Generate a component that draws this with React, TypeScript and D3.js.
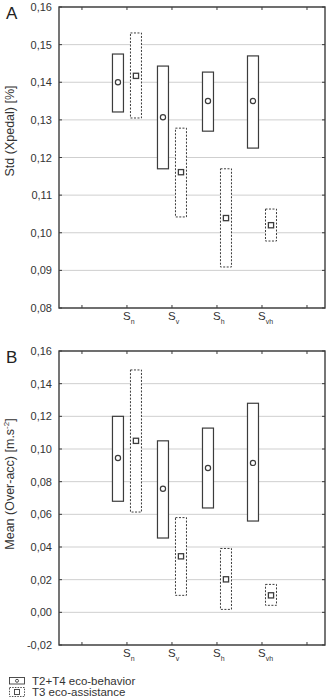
import React from 'react';
import * as d3 from 'd3';

// condition labels (S with subscript)
const categories = ['n', 'v', 'h', 'vh'];

// panel A: Std (Xpedal)
const stdBehaviorMean = [0.14, 0.1307, 0.135, 0.135];
const stdBehaviorLow = [0.1321, 0.117, 0.127, 0.1225];
const stdBehaviorHigh = [0.1475, 0.1443, 0.1427, 0.147];
const stdAssistMean = [0.1417, 0.1161, 0.1039, 0.102];
const stdAssistLow = [0.1305, 0.1042, 0.0909, 0.0978];
const stdAssistHigh = [0.1531, 0.1278, 0.117, 0.1063];
const stdTicks = [0.08, 0.09, 0.1, 0.11, 0.12, 0.13, 0.14, 0.15, 0.16];

// panel B: Mean (Over-acc)
const accBehaviorMean = [0.0945, 0.0757, 0.0884, 0.0915];
const accBehaviorLow = [0.068, 0.0455, 0.0639, 0.0559];
const accBehaviorHigh = [0.12, 0.105, 0.1128, 0.128];
const accAssistMean = [0.105, 0.0343, 0.0202, 0.0104];
const accAssistLow = [0.0614, 0.0104, 0.0018, 0.0043];
const accAssistHigh = [0.1484, 0.058, 0.0391, 0.0171];
const accTicks = [-0.02, 0, 0.02, 0.04, 0.06, 0.08, 0.1, 0.12, 0.14, 0.16];

const legendLabels = ['T2+T4 eco-behavior', 'T3 eco-assistance'];

const FONT = '"Liberation Sans", Arial, sans-serif';
const INK = '#3c3c3c';
const TXT = '#333';
const DASH = '2,1.5';
const fmt = (v: number) => d3.format('.2f')(v).replace('.', ',').replace('−', '-');

const left = 59, right = 325;
const x = d3.scaleLinear().domain([0.49, 6.4]).range([left, right]);
const xTicks = [1, 2, 3, 4, 5, 6];
const off = 9, bw = 11;

type PanelProps = {
  top: number; bottom: number; ticks: number[]; letter: string; title: React.ReactNode; titleY: number;
  bMean: number[]; bLow: number[]; bHigh: number[];
  aMean: number[]; aLow: number[]; aHigh: number[];
};

const Panel = ({ top, bottom, ticks, letter, title, titleY, bMean, bLow, bHigh, aMean, aLow, aHigh }: PanelProps) => {
  const y = d3.scaleLinear().domain([ticks[0], ticks[ticks.length - 1]]).range([bottom, top]);
  return (
    <g>
      {ticks.map(t => (
        <g key={t}>
          <line x1={left} x2={right} y1={y(t)} y2={y(t)} stroke="#cfcfcf" strokeWidth={1} />
          <line x1={left} x2={left + 3} y1={y(t)} y2={y(t)} stroke={INK} />
          <line x1={right - 3} x2={right} y1={y(t)} y2={y(t)} stroke={INK} />
          <text x={52} y={y(t) + 4} textAnchor="end" fontSize={11} fill={TXT}>{fmt(t)}</text>
        </g>
      ))}
      {xTicks.map(t => (
        <g key={t}>
          <line x1={x(t)} x2={x(t)} y1={top} y2={top + 3} stroke={INK} />
          <line x1={x(t)} x2={x(t)} y1={bottom} y2={bottom - 3} stroke={INK} />
        </g>
      ))}
      <rect x={left} y={top} width={right - left} height={bottom - top} fill="none" stroke={INK} strokeWidth={1.4} />
      {categories.map((c, i) => {
        const cx = x(i + 2);
        return (
          <g key={c}>
            <rect x={cx - off - bw / 2} y={y(bHigh[i])} width={bw} height={y(bLow[i]) - y(bHigh[i])}
              fill="white" stroke={INK} strokeWidth={1.2} />
            <circle cx={cx - off} cy={y(bMean[i])} r={2.6} fill="white" stroke={INK} strokeWidth={1.2} />
            <rect x={cx + off - bw / 2} y={y(aHigh[i])} width={bw} height={y(aLow[i]) - y(aHigh[i])}
              fill="white" stroke={INK} strokeWidth={1} strokeDasharray={DASH} />
            <rect x={cx + off - 2.6} y={y(aMean[i]) - 2.6} width={5.2} height={5.2}
              fill="white" stroke={INK} strokeWidth={1.3} />
            <text x={cx - 4} y={bottom + 12} fontSize={11.5} fill={TXT}>
              S<tspan fontSize={7} dy={4} fill={TXT}>{c}</tspan>
            </text>
          </g>
        );
      })}
      <text x={6} y={top + 12} fontSize={17} fill="#222">{letter}</text>
      <text transform={`translate(14,${titleY}) rotate(-90)`} textAnchor="middle" fontSize={12.5} fill={TXT}>{title}</text>
    </g>
  );
};

export default function App() {
  return (
    <svg width={331} height={699} style={{ position: 'absolute', left: 0, top: 0, background: 'white' }} fontFamily={FONT}>
      <Panel top={7} bottom={308} ticks={stdTicks} letter="A" title="Std (Xpedal) [%]" titleY={131}
        bMean={stdBehaviorMean} bLow={stdBehaviorLow} bHigh={stdBehaviorHigh}
        aMean={stdAssistMean} aLow={stdAssistLow} aHigh={stdAssistHigh} />
      <Panel top={351} bottom={645} ticks={accTicks} letter="B" titleY={484}
        title={<>Mean (Over-acc) [m.s<tspan fontSize={8} dy={-5} fill={TXT}>-2</tspan><tspan dy={5} fill={TXT}>]</tspan></>}
        bMean={accBehaviorMean} bLow={accBehaviorLow} bHigh={accBehaviorHigh}
        aMean={accAssistMean} aLow={accAssistLow} aHigh={accAssistHigh} />
      <g>
        <rect x={9.5} y={677.5} width={15} height={6.5} fill="white" stroke={INK} strokeWidth={0.9} />
        <circle cx={17} cy={680.8} r={1.5} fill="none" stroke={INK} strokeWidth={0.9} />
        <text x={32} y={684.5} fontSize={11.5} fill={TXT}>{legendLabels[0]}</text>
        <rect x={9.5} y={687.5} width={15} height={9} fill="white" stroke={INK} strokeWidth={0.9} strokeDasharray="1.5,1.2" />
        <rect x={14.5} y={689.5} width={5} height={5} fill="none" stroke={INK} strokeWidth={0.9} />
        <text x={32} y={696} fontSize={11.5} fill={TXT}>{legendLabels[1]}</text>
      </g>
    </svg>
  );
}
